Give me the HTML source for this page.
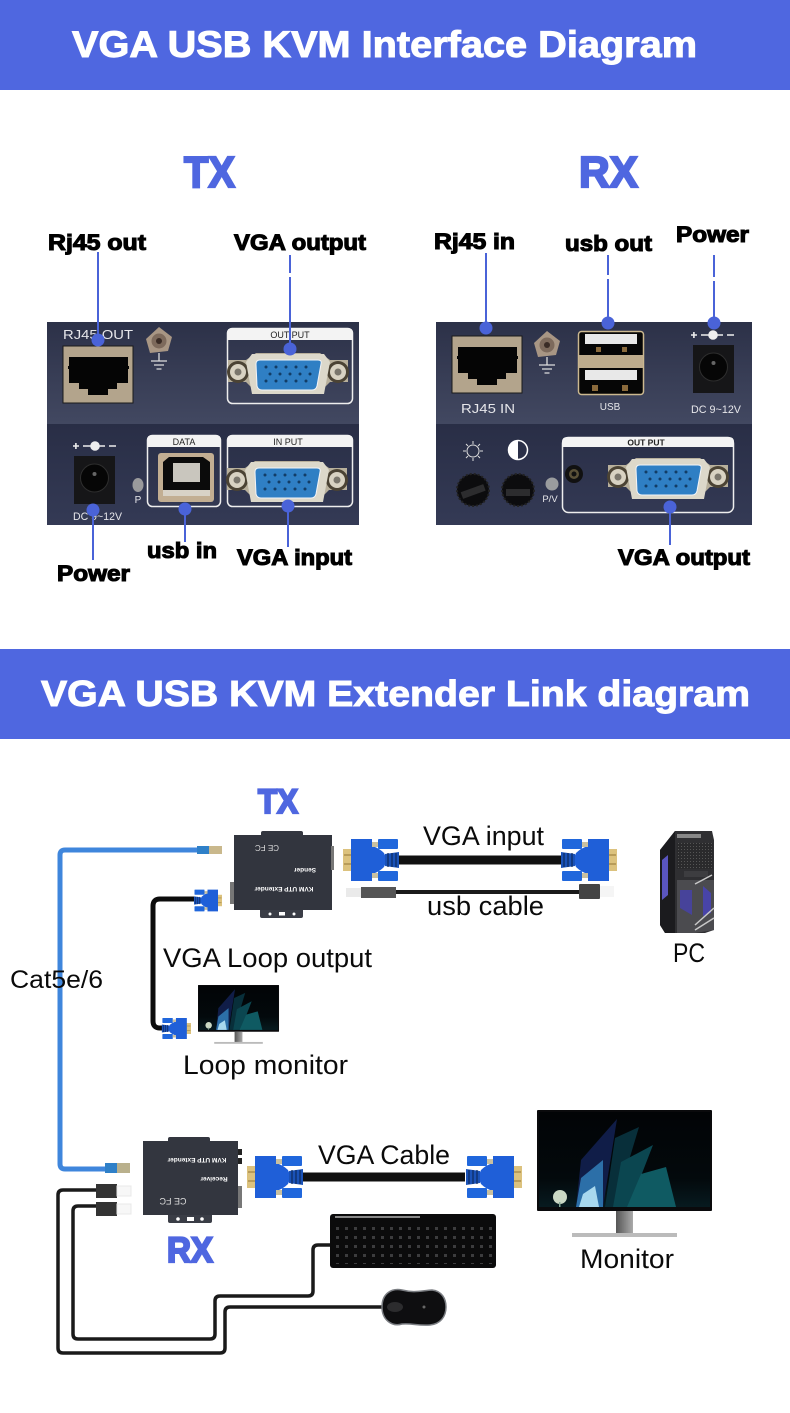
<!DOCTYPE html>
<html><head><meta charset="utf-8"><style>
html,body{margin:0;padding:0;background:#fff}
svg{display:block}
text{font-family:"Liberation Sans",sans-serif}
.h{font-weight:700;fill:#fff;stroke:#fff;stroke-width:1}
.b{font-weight:700;fill:#000;stroke:#000;stroke-width:1.1;font-size:22px}
.t{font-weight:700;fill:#4f67e0;stroke:#4f67e0;stroke-width:2.2}
.n{fill:#0a0a0a;font-size:27px}
.p{fill:#e6e6ea}
.d{fill:#fff;font-weight:700;font-size:6.5px}
</style></head><body>
<svg xmlns="http://www.w3.org/2000/svg" width="790" height="1413" viewBox="0 0 790 1413">
<defs>
<linearGradient id="pTop" x1="0" y1="0" x2="0" y2="1"><stop offset="0" stop-color="#2c3148"/><stop offset="1" stop-color="#424861"/></linearGradient>
<linearGradient id="pBot" x1="0" y1="0" x2="0" y2="1"><stop offset="0" stop-color="#292e46"/><stop offset="1" stop-color="#343a55"/></linearGradient>
<linearGradient id="scr" x1="0" y1="0" x2="0" y2="1"><stop offset="0" stop-color="#020406"/><stop offset=".7" stop-color="#03090c"/><stop offset="1" stop-color="#071a1f"/></linearGradient>
<linearGradient id="stand" x1="0" y1="0" x2="1" y2="0"><stop offset="0" stop-color="#555"/><stop offset="1" stop-color="#aaa"/></linearGradient>
<pattern id="keys" width="9" height="9" patternUnits="userSpaceOnUse"><rect width="9" height="9" fill="#0b0b0c"/><rect x="3" y="3" width="3" height="3" fill="#3c3c3e"/></pattern>
<pattern id="grill" width="3" height="3" patternUnits="userSpaceOnUse"><rect width="3" height="3" fill="#2a2a2c"/><rect width="1" height="1" fill="#555"/></pattern>

<g id="vgaPort">
 <path d="M-60 -12 h18 l10 -7 h64 l10 7 h18 v22 h-18 l-10 10 h-64 l-10 -10 h-18z" fill="#b8b09c"/>
 <circle cx="-50" cy="0" r="11" fill="#4b4334"/><circle cx="-50" cy="0" r="8" fill="#d8d2c2"/><circle cx="-50" cy="0" r="3.500" fill="#7a766c"/>
 <circle cx="50" cy="0" r="11" fill="#4b4334"/><circle cx="50" cy="0" r="8" fill="#d8d2c2"/><circle cx="50" cy="0" r="3.500" fill="#7a766c"/>
 <path d="M-36 -18 h72 l6 8 -6 32 h-72 l-6 -32z" fill="#dcd8ca"/>
 <path d="M-32 -8 q0 -4 4 -4 h58 q4 0 3 4 l-4 22 q-1 4 -5 4 h-50 q-4 0 -5 -4z" fill="#2f7fc4" stroke="#f2f4f8" stroke-width="1"/>
 <g fill="#123d66"><circle cx="-22" cy="-5" r="1.500"/><circle cx="-12" cy="-5" r="1.500"/><circle cx="-2" cy="-5" r="1.500"/><circle cx="8" cy="-5" r="1.500"/><circle cx="18" cy="-5" r="1.500"/><circle cx="-18" cy="2" r="1.500"/><circle cx="-8" cy="2" r="1.500"/><circle cx="2" cy="2" r="1.500"/><circle cx="12" cy="2" r="1.500"/><circle cx="22" cy="2" r="1.500"/><circle cx="-22" cy="9" r="1.500"/><circle cx="-12" cy="9" r="1.500"/><circle cx="-2" cy="9" r="1.500"/><circle cx="8" cy="9" r="1.500"/><circle cx="18" cy="9" r="1.500"/></g>
</g>

<g id="rj">
 <rect width="70" height="57" fill="#b3a48c" stroke="#1a1a1a" stroke-width="1"/>
 <path d="M6 11 h59 v9 h1 v3 h-1 v14 h-11 v6 h-9 v6 h-20 v-6 h-9 v-6 h-10 v-14 h-1 v-3 h1z" fill="#050505"/>
</g>
<g id="screw">
 <path d="M0 -14 L13 -4 L9 10 L-9 12 L-13 -2z" fill="#a89684"/>
 <circle r="7.500" fill="#7d6a5c"/><circle r="3" fill="#3a2c26"/>
 <g stroke="#ddd" stroke-width="1.300"><path d="M0 12 v8M-8 20 h16M-5 24 h10M-2.500 28 h5"/></g>
</g>
<g id="jack">
 <rect width="41" height="48" fill="#161618"/>
 <circle cx="20.500" cy="22" r="14" fill="#060606" stroke="#2e2e2e"/>
 <circle cx="20.500" cy="18" r="2" fill="#666"/>
</g>
<g id="polar" stroke="#eee" stroke-width="1.600" fill="none">
 <path d="M0 0 h6M2.900 -3 v6M10 0 h8"/><circle cx="22" cy="0" r="4" fill="#eee"/><path d="M26 0 h6M36 0 h7"/>
</g>

<g id="plug">
 <rect x="0" y="-11" width="9" height="22" fill="#dcc27e"/>
 <rect x="1" y="-6" width="7" height="2" fill="#b89c5a"/><rect x="1" y="3" width="7" height="2" fill="#b89c5a"/>
 <path d="M8 -21 H29 V-14 Q36 -12 41 -7 L44 0 L41 7 Q36 12 29 14 V21 H8z" fill="#1f5fd8"/>
 <rect x="35" y="-21" width="20" height="10" rx="1" fill="#2067dc"/>
 <rect x="35" y="11" width="20" height="10" rx="1" fill="#2067dc"/>
 <rect x="29" y="-18" width="6" height="5" fill="#c9c0a0"/><rect x="29" y="13" width="6" height="5" fill="#c9c0a0"/>
 <path d="M42 -6 L56 -8 V8 L42 6z" fill="#1a52b8"/>
 <path d="M45 -7 v14M49 -7 v14M53 -7 v14" stroke="#0e2a5e" stroke-width="1.200"/>
</g>

<g id="mon">
 <rect width="175" height="101" rx="1" fill="#0a0a0c"/>
 <rect x="2" y="2" width="171" height="95" fill="url(#scr)"/>
 <path d="M44 50 L80 9 L66 97 H39z" fill="#101d48"/>
 <path d="M44 68 L66 50 L66 97 H39z" fill="#2c6fa8"/>
 <path d="M46 84 L58 76 L62 97 H42z" fill="#a8d8ee"/>
 <path d="M78 28 L102 17 L78 97 H68z" fill="#082f3a"/>
 <path d="M84 52 L116 35 L92 97 H76z" fill="#0b4650"/>
 <path d="M104 64 L129 57 L139 97 H90z" fill="#0f5a62"/>
 <circle cx="23" cy="87" r="7" fill="#cbd8c4"/><rect x="22" y="92" width="1.500" height="5" fill="#8a9"/>
 <rect x="79" y="101" width="17" height="22" fill="url(#stand)"/>
 <rect x="35" y="123" width="105" height="4" fill="#bbb"/>
</g>
</defs>

<rect width="790" height="1413" fill="#fff"/>

<!-- Header 1 -->
<rect x="0" y="0" width="790" height="90" fill="#4f67e0"/>
<text class="h" x="72" y="57" font-size="37" textLength="625" lengthAdjust="spacingAndGlyphs">VGA USB KVM Interface Diagram</text>

<text class="t" x="184" y="187" font-size="44" textLength="51" lengthAdjust="spacingAndGlyphs">TX</text>
<text class="t" x="579" y="187" font-size="44" textLength="59" lengthAdjust="spacingAndGlyphs">RX</text>

<!-- TX panel -->
<rect x="47" y="322" width="312" height="102" fill="url(#pTop)"/>
<rect x="47" y="424" width="312" height="101" fill="url(#pBot)"/>
<use href="#rj" x="63" y="346"/>
<text class="p" x="63" y="339" font-size="13" textLength="70" lengthAdjust="spacingAndGlyphs">RJ45 OUT</text>
<use href="#screw" x="159" y="341"/>
<rect x="227.500" y="328.500" width="125" height="75" rx="5" fill="none" stroke="#eee" stroke-width="1.500"/>
<path d="M227 340 V333 q0 -5 5 -5 h116 q5 0 5 5 v7z" fill="#f3f3f3"/>
<text x="290" y="338" font-size="9" fill="#222" text-anchor="middle">OUT  PUT</text>
<use href="#vgaPort" x="288" y="372"/>
<rect x="227.500" y="435.500" width="125" height="71" rx="5" fill="none" stroke="#eee" stroke-width="1.500"/>
<path d="M227 447 V440 q0 -5 5 -5 h116 q5 0 5 5 v7z" fill="#f3f3f3"/>
<text x="288" y="445" font-size="9" fill="#222" text-anchor="middle">IN  PUT</text>
<use href="#vgaPort" x="287" y="480"/>
<rect x="147.500" y="435.500" width="73" height="71" rx="5" fill="none" stroke="#eee" stroke-width="1.500"/>
<path d="M147 447 V440 q0 -5 5 -5 h64 q5 0 5 5 v7z" fill="#f3f3f3"/>
<text x="184" y="445" font-size="9" fill="#222" text-anchor="middle">DATA</text>
<rect x="158" y="453" width="56" height="49" rx="3" fill="#c2ae92"/>
<path d="M163 462 l6 -5 h34 l7 5 v33 h-47z" fill="#0b0b0b"/>
<path d="M163 490 h47 v6 h-47z" fill="#d8d2c6"/>
<rect x="173" y="463" width="27" height="19" fill="#c9c6be"/>
<use href="#polar" x="73" y="446"/>
<use href="#jack" x="74" y="456"/>
<text class="p" x="73" y="520" font-size="11" textLength="49" lengthAdjust="spacingAndGlyphs">DC 9~12V</text>
<ellipse cx="138" cy="485" rx="5.500" ry="7" fill="#9a9a9c"/>
<text class="p" x="138" y="503" font-size="10" text-anchor="middle">P</text>

<!-- RX panel -->
<rect x="436" y="322" width="316" height="102" fill="url(#pTop)"/>
<rect x="436" y="424" width="316" height="101" fill="url(#pBot)"/>
<use href="#rj" x="452" y="336"/>
<text class="p" x="461" y="413" font-size="13" textLength="54" lengthAdjust="spacingAndGlyphs">RJ45 IN</text>
<use href="#screw" x="547" y="345"/>
<rect x="578.500" y="331.500" width="65" height="63" rx="3" fill="#060606" stroke="#cbb88f" stroke-width="1.500"/>
<rect x="579" y="355" width="64" height="13" fill="#bdab8c"/>
<rect x="585" y="334" width="52" height="10" fill="#e8e8e8"/><rect x="585" y="370" width="52" height="10" fill="#e8e8e8"/>
<g fill="#8a6a3c"><rect x="596" y="347" width="5" height="5"/><rect x="622" y="347" width="5" height="5"/><rect x="592" y="385" width="6" height="6"/><rect x="622" y="385" width="6" height="6"/></g>
<text class="p" x="610" y="410" font-size="10" text-anchor="middle">USB</text>
<use href="#polar" x="691" y="335"/>
<use href="#jack" x="693" y="345"/>
<text class="p" x="691" y="413" font-size="11" textLength="50" lengthAdjust="spacingAndGlyphs">DC 9~12V</text>
<circle cx="473" cy="451" r="6" fill="none" stroke="#ddd" stroke-width="1"/>
<g stroke="#ddd" stroke-width="1"><path d="M473 441v3M473 458v3M463 451h3M480 451h3M466 444l2 2M478 456l2 2M480 444l-2 2M468 456l-2 2"/></g>
<circle cx="518" cy="450" r="9.500" fill="#2b3048" stroke="#fff" stroke-width="1.500"/><path d="M518 440.500 a9.500 9.500 0 0 0 0 19z" fill="#fff"/>
<circle cx="473" cy="490" r="16" fill="#0c0c0e" stroke="#222" stroke-width="2" stroke-dasharray="2 2"/><rect x="461" y="488" width="24" height="7" transform="rotate(-20 473 491)" fill="#2c2c2e"/>
<circle cx="518" cy="490" r="16" fill="#0c0c0e" stroke="#222" stroke-width="2" stroke-dasharray="2 2"/><rect x="506" y="489" width="24" height="7" fill="#2c2c2e"/>
<circle cx="552" cy="484" r="6.500" fill="#9a9c9e"/>
<text class="p" x="550" y="502" font-size="9.500" text-anchor="middle">P/V</text>
<rect x="562.500" y="437.500" width="171" height="75" rx="6" fill="none" stroke="#eee" stroke-width="1.500"/>
<path d="M562 447 V442 q0 -5 5 -5 h162 q5 0 5 5 v5z" fill="#f3f3f3"/>
<text x="646" y="445.500" font-size="8.500" font-weight="700" fill="#222" text-anchor="middle">OUT  PUT</text>
<circle cx="574" cy="474" r="9" fill="#111"/><circle cx="574" cy="474" r="5" fill="#5a5138"/><circle cx="574" cy="474" r="2.500" fill="#111"/>
<use href="#vgaPort" x="668" y="477"/>

<!-- Callouts -->
<g stroke="#4a63d8" stroke-width="2" fill="#4a63d8">
 <path d="M98 252 V340"/><path d="M290 255 V273M290 277 V349"/>
 <path d="M93 510 V560"/><path d="M185 509 V542"/><path d="M288 506 V547"/>
 <path d="M486 253 V328"/><path d="M608 255 V275M608 279 V323"/><path d="M714 255 V277M714 281 V323"/>
 <path d="M670 507 V545"/>
</g>
<g fill="#4a63d8">
 <circle cx="98" cy="340" r="6.500"/><circle cx="290" cy="349" r="6.500"/><circle cx="93" cy="510" r="6.500"/><circle cx="185" cy="509" r="6.500"/><circle cx="288" cy="506" r="6.500"/>
 <circle cx="486" cy="328" r="6.500"/><circle cx="608" cy="323" r="6.500"/><circle cx="714" cy="323" r="6.500"/><circle cx="670" cy="507" r="6.500"/>
</g>
<text class="b" x="48" y="250" textLength="98" lengthAdjust="spacingAndGlyphs">Rj45 out</text>
<text class="b" x="234" y="250" textLength="132" lengthAdjust="spacingAndGlyphs">VGA output</text>
<text class="b" x="57" y="581" textLength="73" lengthAdjust="spacingAndGlyphs">Power</text>
<text class="b" x="147" y="558" textLength="70" lengthAdjust="spacingAndGlyphs">usb in</text>
<text class="b" x="237" y="565" textLength="115" lengthAdjust="spacingAndGlyphs">VGA input</text>
<text class="b" x="434" y="249" textLength="81" lengthAdjust="spacingAndGlyphs">Rj45 in</text>
<text class="b" x="565" y="251" textLength="87" lengthAdjust="spacingAndGlyphs">usb out</text>
<text class="b" x="676" y="242" textLength="73" lengthAdjust="spacingAndGlyphs">Power</text>
<text class="b" x="618" y="565" textLength="132" lengthAdjust="spacingAndGlyphs">VGA output</text>

<!-- Header 2 -->
<rect x="0" y="649" width="790" height="90" fill="#4f67e0"/>
<text class="h" x="41" y="706" font-size="36" textLength="709" lengthAdjust="spacingAndGlyphs">VGA USB KVM Extender Link diagram</text>

<!-- Cat cable -->
<path d="M197 850 H65 Q60 850 60 855 V1164 Q60 1169 65 1169 H106" fill="none" stroke="#3f86dc" stroke-width="5"/>
<rect x="197" y="846" width="12" height="8" fill="#2f80c8"/><rect x="209" y="846" width="13" height="8" fill="#c9b88c"/>
<rect x="105" y="1163" width="12" height="10" fill="#2f80c8"/><rect x="117" y="1163" width="13" height="10" fill="#b9b08c"/>

<!-- Loop cable -->
<path d="M194 899 H160 Q153 899 153 906 V1021 Q153 1028 160 1028 H165" fill="none" stroke="#0c0c0c" stroke-width="5"/>
<use href="#plug" transform="translate(222 900.500) scale(-.5 .52)"/>
<use href="#plug" transform="translate(191 1028.500) scale(-.52 .5)"/>

<!-- TX box -->
<rect x="261" y="831" width="42" height="6" rx="2" fill="#33363f"/>
<rect x="260" y="908" width="43" height="10" rx="2" fill="#3a3d46"/>
<circle cx="270" cy="914" r="1.500" fill="#fff"/><circle cx="294" cy="914" r="1.500" fill="#fff"/><rect x="279" y="912" width="6" height="3.500" fill="#fff"/>
<rect x="234" y="835" width="98" height="75" fill="#32353e"/>
<rect x="331" y="846" width="3" height="24" fill="#777"/>
<rect x="230" y="882" width="4" height="22" fill="#777"/>
<g transform="rotate(180 284 889)"><text class="d" x="284" y="891" text-anchor="middle">KVM UTP Extender</text></g>
<g transform="rotate(180 305 870)"><text class="d" x="305" y="872" text-anchor="middle" font-size="7">Sender</text></g>
<g transform="rotate(180 267 848)"><text x="267" y="851" font-size="8" fill="#ddd" text-anchor="middle">CE FC</text></g>

<!-- VGA input cable -->
<rect x="399" y="855.500" width="162" height="9" fill="#111"/>
<use href="#plug" x="343" y="860"/>
<use href="#plug" transform="translate(617 860) scale(-1 1)"/>
<path d="M396 892 H580" stroke="#1a1a1a" stroke-width="4"/>
<rect x="346" y="888" width="15" height="9" fill="#eaeaea"/>
<rect x="361" y="887" width="35" height="11" fill="#555"/>
<rect x="579" y="884" width="21" height="15" rx="1" fill="#444"/>
<rect x="600" y="886" width="14" height="11" fill="#f5f5f5"/>

<!-- PC -->
<path d="M660 850 L675 831 H712 L714 840 V930 L705 933 H665 L660 925z" fill="#2f2f32"/>
<path d="M660 850 L675 831 V933 H665 L660 925z" fill="#1b1b1e"/>
<rect x="677" y="843" width="36" height="26" fill="url(#grill)"/>
<rect x="684" y="871" width="24" height="6" fill="#3d3d40"/>
<path d="M677 880 H714 V930 L695 933 H677z" fill="#4b4b4f"/>
<path d="M662 860 L668 855 V895 L662 900z" fill="#5a55c0"/>
<path d="M680 890 H692 V915 L680 908z" fill="#47439a"/>
<path d="M703 886 L711 893 V913 L703 916z" fill="#4844a8"/>
<path d="M695 930 L714 918 M695 925 L714 908 M695 884 L712 875" stroke="#c8c8c8" stroke-width="1.500"/>
<rect x="677" y="834" width="24" height="4" fill="#888"/>

<!-- RX box -->
<rect x="168" y="1137" width="42" height="6" rx="2" fill="#33363f"/>
<rect x="168" y="1213" width="44" height="10" rx="2" fill="#3a3d46"/>
<circle cx="178" cy="1219" r="1.800" fill="#fff"/><circle cx="202" cy="1219" r="1.800" fill="#fff"/><rect x="187" y="1217" width="7" height="4" fill="#fff"/>
<rect x="143" y="1141" width="95" height="74" fill="#33363f"/>
<rect x="238" y="1149" width="4" height="6" fill="#222"/><rect x="238" y="1158" width="4" height="6" fill="#222"/>
<rect x="238" y="1186" width="4" height="22" fill="#777"/>
<g transform="rotate(180 197 1160)"><text class="d" x="197" y="1162" text-anchor="middle">KVM UTP Extender</text></g>
<g transform="rotate(180 214 1179)"><text class="d" x="214" y="1181" text-anchor="middle" font-size="7">Receiver</text></g>
<g transform="rotate(180 173 1201)"><text x="173" y="1204" font-size="9" fill="#ddd" text-anchor="middle">CE FC</text></g>

<!-- VGA cable -->
<rect x="303" y="1172.500" width="162" height="9" fill="#111"/>
<use href="#plug" x="247" y="1177"/>
<use href="#plug" transform="translate(522 1177) scale(-1 1)"/>

<!-- USB cables -->
<path d="M96 1190 H63 Q58 1190 58 1195 V1348 Q58 1353 63 1353 H220 Q225 1353 225 1348 V1312 Q225 1307 230 1307 H382" fill="none" stroke="#1a1a1a" stroke-width="3.500"/>
<path d="M96 1206 H78 Q73 1206 73 1211 V1334 Q73 1339 78 1339 H210 Q215 1339 215 1334 V1301 Q215 1296 220 1296 H308 Q313 1296 313 1291 V1250 Q313 1245 318 1245 H330" fill="none" stroke="#1a1a1a" stroke-width="3.500"/>
<rect x="96" y="1184" width="21" height="14" fill="#333"/><rect x="117" y="1186" width="14" height="10" fill="#f7f7f7" stroke="#e8e8e8"/>
<rect x="96" y="1202" width="21" height="14" fill="#333"/><rect x="117" y="1204" width="14" height="10" fill="#f7f7f7" stroke="#e8e8e8"/>

<!-- Keyboard -->
<rect x="330" y="1214" width="166" height="54" rx="3" fill="#0b0b0c"/>
<rect x="334" y="1222" width="158" height="42" fill="url(#keys)"/>
<rect x="335" y="1216" width="85" height="2" fill="#888"/>

<!-- Mouse -->
<path d="M382 1307 C382 1293 392 1288 402 1290 C414 1293 420 1291 432 1290 C442 1291 446 1299 446 1307 C446 1317 440 1324 430 1325 C418 1326 412 1323 402 1324 C392 1327 382 1320 382 1307z" fill="#0e0e10" stroke="#7a7d82" stroke-width="1.500"/>
<ellipse cx="395" cy="1307" rx="8" ry="5" fill="#2c2c2e"/><circle cx="424" cy="1307" r="1.500" fill="#666"/>

<!-- Monitors -->
<use href="#mon" x="537" y="1110"/>
<use href="#mon" transform="translate(198 985) scale(.463)"/>

<!-- Titles -->
<text class="t" x="258" y="813" font-size="34" textLength="40" lengthAdjust="spacingAndGlyphs">TX</text>
<text class="t" x="167" y="1262" font-size="35" textLength="46" lengthAdjust="spacingAndGlyphs">RX</text>

<!-- Labels -->
<text class="n" x="423" y="845" textLength="121" lengthAdjust="spacingAndGlyphs">VGA input</text>
<text class="n" x="427" y="915" textLength="117" lengthAdjust="spacingAndGlyphs">usb cable</text>
<text class="n" x="673" y="962" textLength="32" lengthAdjust="spacingAndGlyphs">PC</text>
<text class="n" x="163" y="967" textLength="209" lengthAdjust="spacingAndGlyphs">VGA Loop output</text>
<text class="n" x="10" y="988" textLength="93" lengthAdjust="spacingAndGlyphs" style="font-size:25px">Cat5e/6</text>
<text class="n" x="183" y="1074" textLength="165" lengthAdjust="spacingAndGlyphs">Loop monitor</text>
<text class="n" x="318" y="1164" textLength="132" lengthAdjust="spacingAndGlyphs">VGA Cable</text>
<text class="n" x="580" y="1268" textLength="94" lengthAdjust="spacingAndGlyphs">Monitor</text>
</svg>
</body></html>
